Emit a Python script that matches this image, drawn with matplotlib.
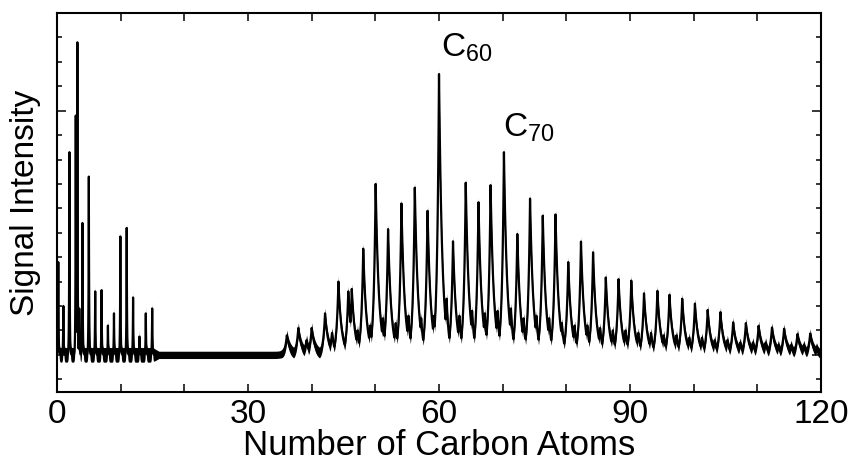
import numpy as np
import matplotlib
matplotlib.use('Agg')
from matplotlib import pyplot as plt
from matplotlib.ticker import MultipleLocator, NullFormatter

plt.rcParams['font.family'] = ['Liberation Sans', 'DejaVu Sans']
plt.rcParams['mathtext.fontset'] = 'custom'
plt.rcParams['mathtext.rm'] = 'Liberation Sans'
plt.rcParams['mathtext.it'] = 'Liberation Sans'
plt.rcParams['path.simplify'] = False

# small carbon clusters (narrow peaks), position and height
small_pos = [0.2, 1.0, 1.95, 2.95, 3.2, 3.5, 4.0, 5.0, 6.0, 7.0, 8.0, 8.95,
             9.95, 10.95, 11.95, 12.95, 13.95, 14.95]
small_int = [3.8, 2.0, 8.3, 9.8, 12.8, 1.9, 5.4, 7.3, 2.6, 2.65, 1.2, 1.7,
             4.85, 5.2, 2.35, 0.75, 1.7, 1.9]

# fullerene cages (even numbers)
cage_pos = [36.1, 37.9, 40.0, 42.1, 44.2, 45.75, 46.3, 48.1, 50.05, 52.0, 54.1,
            56.2, 58.2, 60.0, 62.2, 64.2, 66.2, 68.1, 70.2, 72.3, 74.3, 76.3,
            78.3, 80.3, 82.3, 84.2, 86.2, 88.2, 90.2, 92.2, 94.3, 96.2, 98.2,
            100.2, 102.2, 104.2, 106.2, 108.2, 110.2, 112.3, 114.2, 116.3, 118.3]
cage_int = [0.8, 1.1, 1.1, 1.7, 3.0, 2.6, 2.7, 4.35, 7.0, 5.15, 6.2,
            6.85, 5.9, 11.5, 4.65, 7.05, 6.25, 6.95, 8.3, 4.95, 6.4, 5.7,
            5.75, 3.8, 4.64, 4.2, 3.17, 3.1, 3.04, 2.52, 2.62, 2.46, 2.3,
            2.1, 1.84, 1.75, 1.33, 1.3, 1.19, 1.12, 1.07, 0.85, 0.87]

# shoulders on the odd positions between cages
odd_pos = [39.2, 43.2, 47.2, 49.2, 51.2, 53.2, 55.2, 57.2, 59.2, 61.2, 63.2,
           65.2, 67.2, 69.2, 71.3, 73.3, 75.3, 77.3, 79.3, 81.3, 83.3, 85.3,
           87.3, 89.3, 91.3, 93.3, 95.3, 97.3, 99.3, 101.3, 103.3, 105.3,
           107.3, 109.3, 111.3, 113.3, 115.3, 117.3, 119.3]
odd_int = [0.6, 0.9, 1.0, 1.2, 1.5, 1.3, 1.6, 1.5, 1.6, 2.3, 1.6,
           1.8, 1.7, 1.8, 1.9, 1.5, 1.6, 1.5, 1.3, 1.2, 1.2, 1.1,
           1.0, 1.0, 0.9, 0.9, 0.8, 0.8, 0.7, 0.7, 0.6, 0.6,
           0.5, 0.5, 0.5, 0.4, 0.4, 0.4, 0.3]

# background level between peaks
bg_pos = [0, 15, 34.5, 35, 40, 45, 50, 55, 60, 65, 70, 75, 80, 85, 90, 100, 110, 120]
bg_int = [-0.2, -0.3, -0.3, 0.0, 0.0, 0.05, 0.1, 0.2, 0.3, 0.3, 0.3, 0.2, 0.1,
          0.0, -0.05, 0.0, 0.05, 0.0]

# thickness of the noisy trace
noise_pos = [0, 15, 16, 35, 36, 120]
noise_amp = [0.3, 0.3, 0.15, 0.15, 0.22, 0.2]

x = np.arange(0, 120.0001, 0.01)
y = np.interp(x, bg_pos, bg_int)
for c, h in zip(small_pos, small_int):
  y = np.maximum(y, h * np.exp(-np.abs(x - c) / 0.05))
for c, h in zip(cage_pos, cage_int):
  w = np.where(x < c, 0.3, 0.5)
  y = np.maximum(y, h * np.exp(-np.abs(x - c) / w))
for c, h in zip(odd_pos, odd_int):
  y = np.maximum(y, h * np.exp(-np.abs(x - c) / 0.35))
amp = np.interp(x, noise_pos, noise_amp)

fig = plt.figure(figsize = (8.48, 4.63), dpi = 100)
ax = fig.add_axes([57 / 848, 1 - 392 / 463, 764 / 848, 379 / 463])

ax.fill_between(x, y - amp, y + amp, color = 'black', lw = 0)
ax.plot(x, y, color = 'black', lw = 1.6)

ax.set_xlim(0, 120)
ax.set_ylim(-1.52, 14.0)

ax.xaxis.set_major_locator(MultipleLocator(30))
ax.xaxis.set_minor_locator(MultipleLocator(10))
ax.yaxis.set_major_locator(MultipleLocator(10))
ax.yaxis.set_minor_locator(MultipleLocator(1))
ax.yaxis.set_major_formatter(NullFormatter())

ax.tick_params(axis = 'x', which = 'both', direction = 'in', top = True,
               length = 5.5, width = 1.1, labelsize = 24, pad = 5)
ax.tick_params(axis = 'y', which = 'major', direction = 'in', right = True,
               length = 6.5, width = 1.1)
ax.tick_params(axis = 'y', which = 'minor', direction = 'in', right = True,
               length = 3.6, width = 1.1)
for s in ax.spines.values():
  s.set_linewidth(1.5)

ax.set_xlabel('Number of Carbon Atoms', fontsize = 25, labelpad = -1)
ax.set_ylabel('Signal Intensity', fontsize = 24, labelpad = 8)

ax.text(60.3, 12.2, r'C$_{\mathrm{60}}$', fontsize = 24, ha = 'left', va = 'baseline')
ax.text(70.05, 8.93, r'C$_{\mathrm{70}}$', fontsize = 24, ha = 'left', va = 'baseline')

fig.savefig('out.png', dpi = 100)
